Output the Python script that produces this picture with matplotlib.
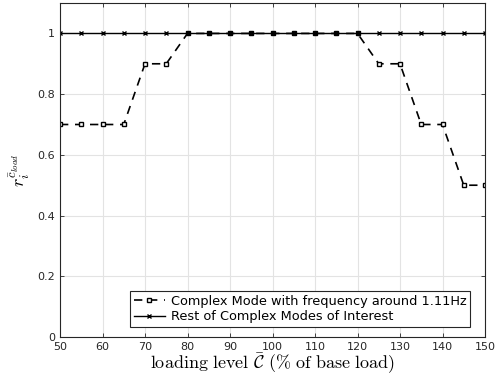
import matplotlib
matplotlib.use("Agg")
import matplotlib.pyplot as plt

load_levels = [50, 55, 60, 65, 70, 75, 80, 85, 90, 95, 100, 105, 110, 115, 120, 125, 130, 135, 140, 145, 150]
mode_111 = [0.7, 0.7, 0.7, 0.7, 0.9, 0.9, 1, 1, 1, 1, 1, 1, 1, 1, 1, 0.9, 0.9, 0.7, 0.7, 0.5, 0.5]
rest_modes = [1] * len(load_levels)
xticks = [50, 60, 70, 80, 90, 100, 110, 120, 130, 140, 150]
yticks = [0, 0.2, 0.4, 0.6, 0.8, 1]
ytick_labels = ["0", "0.2", "0.4", "0.6", "0.8", "1"]

plt.rcParams['mathtext.fontset'] = 'cm'
fig = plt.figure(figsize=(5, 3.84), dpi=100)
ax = fig.add_axes([0.12, 0.1224, 0.85, 0.8696])

ax.plot(load_levels, mode_111, color='black', linestyle=(0, (5, 4)), linewidth=1.2,
        marker='s', markersize=3.2, markerfacecolor='white', markeredgecolor='black',
        markeredgewidth=1.0, label='Complex Mode with frequency around 1.11Hz')
ax.plot(load_levels, rest_modes, color='black', linestyle='-', linewidth=1.0,
        marker='x', markersize=3, markeredgewidth=1.0,
        label='Rest of Complex Modes of Interest')

ax.set_xlim(50, 150)
ax.set_ylim(0, 1.1)
ax.set_xticks(xticks)
ax.set_yticks(yticks)
ax.set_yticklabels(ytick_labels)
ax.grid(True, color='#e3e3e3', linewidth=0.8)
ax.set_axisbelow(True)
ax.tick_params(direction='in', top=True, right=True, labelsize=8, colors='#262626',
               length=3, width=0.6)
for sp in ax.spines.values():
    sp.set_color('#262626')
    sp.set_linewidth(0.8)

ax.set_xlabel(r'$\mathrm{loading\ level}\ \bar{\mathcal{C}}\ (\%\ \mathrm{of\ base\ load})$',
              fontsize=13, labelpad=0)
ax.set_ylabel(r'$r_i^{\bar{c}_{load}}$', fontsize=13, labelpad=4)

leg = ax.legend(loc='lower right', bbox_to_anchor=(0.965, 0.03), fontsize=9.3,
                frameon=True, fancybox=False, edgecolor='#262626', framealpha=1,
                borderpad=0.3, labelspacing=0.2, handlelength=2.4, handletextpad=0.45,
                borderaxespad=0)
leg.get_frame().set_linewidth(0.8)

fig.savefig('out.png', dpi=100)
